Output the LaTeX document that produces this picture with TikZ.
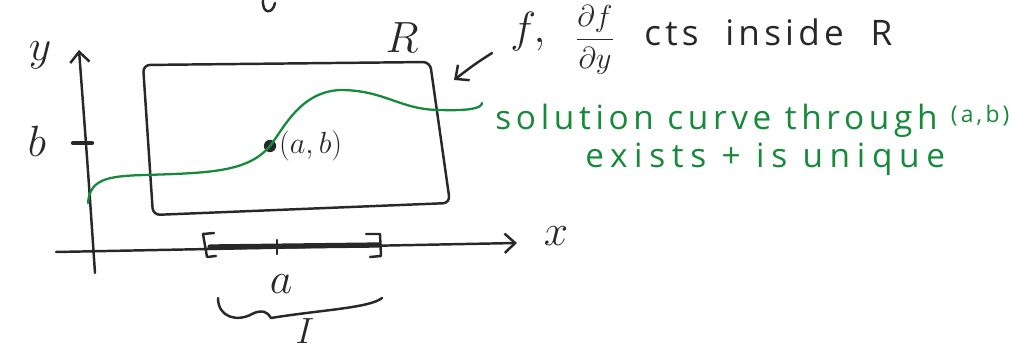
\documentclass[tikz,border=0pt]{standalone}
\usepackage{amsmath,amssymb}
\usepackage{fontspec}
\setmainfont{Open Sans}
\usetikzlibrary{positioning, arrows.meta, calc}

\definecolor{penBlack}{RGB}{40,40,40}
\definecolor{penGreen}{RGB}{22,138,58}

\begin{document}
\begin{tikzpicture}[
    x=0.02cm, y=-0.02cm,
    ink/.style={draw=penBlack, line width=1.4pt, line cap=round, line join=round},
    greenink/.style={draw=penGreen, line width=1.3pt, line cap=round},
    handtext/.style={text=penBlack, inner sep=0pt, font=\fontsize{20}{24}\selectfont},
    greentext/.style={text=penGreen, inner sep=0pt, font=\fontsize{19}{22}\selectfont},
    >={Straight Barb[length=6pt, width=11pt]}
]
    \useasboundingbox (0,0) rectangle (1028,350);

    % Axes
    \coordinate (yBot) at (95,273);
    \coordinate (yTop) at (79,50);
    \coordinate (xLeft) at (56,252);
    \coordinate (xRight) at (517,243);
    \draw[ink, ->] (yBot) .. controls (88,170) .. (yTop);
    \draw[ink, ->] (xLeft) -- (xRight);
    \node[handtext, font=\fontsize{30}{30}\selectfont] (yLbl) at (40,55) {$y$};
    \node[handtext, font=\fontsize{28}{30}\selectfont] (xLbl) at (556,236) {$x$};
    \draw[ink, line width=2.4pt] (73,143) -- (92,143);
    \node[handtext, font=\fontsize{26}{30}\selectfont] (bLbl) at (37,141) {$b$};

    % Region R
    \coordinate (rTL) at (143,65);
    \coordinate (rTR) at (430,62);
    \coordinate (rBR) at (450,203);
    \coordinate (rBL) at (153,215);
    \draw[ink, rounded corners=4pt] (rTL) -- (rTR) -- (rBR) -- (rBL) -- cycle;
    \node[handtext, font=\fontsize{26}{30}\selectfont] (RLbl) at (402,38) {$R$};

    % Interval I
    \coordinate (iL) at (210,247);
    \coordinate (iR) at (379,245);
    \draw[ink, line width=3pt] (iL) -- (iR);
    \draw[ink] (214,233) -- (203,234) -- (207,257) -- (216,256);
    \draw[ink] (366,234) -- (380,234) -- (381,256) -- (370,257);
    \draw[ink] (277,240) -- (277,254);
    \node[handtext, font=\fontsize{26}{30}\selectfont] (aLbl) at (281,284) {$a$};
    \draw[ink] (218,298) .. controls (218,318) and (238,322) .. (252,314)
        .. controls (262,309) and (268,312) .. (271,318)
        .. controls (320,310) and (370,308) .. (382,298);
    \node[handtext, font=\fontsize{22}{24}\selectfont] (ILbl) at (305,331) {$I$};

    % Point and solution curve
    \coordinate (pt) at (270,146);
    \fill[penBlack] (pt) circle[radius=3.5pt];
    \node[handtext, font=\fontsize{17}{20}\selectfont, right=5pt of pt] (ptLbl) {$(a,b)$};
    \coordinate (cS) at (88,203);
    \coordinate (cE) at (482,103);
    \draw[greenink] (cS) .. controls (90,180) and (105,176) .. (145,175)
        .. controls (210,173) and (248,172) .. (pt)
        .. controls (284,128) and (300,92) .. (340,90)
        .. controls (385,90) and (400,110) .. (440,110)
        .. controls (470,111) and (482,108) .. (cE);

    % Notes
    \node[handtext, font=\fontsize{24}{26}\selectfont] (fLbl) at (528,32) {$f,$};
    \node[handtext, font=\fontsize{18}{20}\selectfont] (dfLbl) at (595,40) {$\dfrac{\partial f}{\partial y}$};
    \node[handtext, anchor=west, font=\fontsize{20}{24}\selectfont\addfontfeature{LetterSpace=12}] (cond) at (644,32) {cts\ \ inside\ \ R};
    \coordinate (arrS) at (492,53);
    \coordinate (arrE) at (454,80);
    \draw[ink, ->] (arrS) .. controls (475,64) .. (arrE);
    \node[greentext, anchor=west, font=\fontsize{19}{22}\selectfont\addfontfeature{LetterSpace=14}] (sol) at (495,121) {solution\ curve\ through \raisebox{4pt}{\fontsize{13}{15}\selectfont (a,b)}};
    \node[greentext, anchor=west, font=\fontsize{19}{22}\selectfont\addfontfeature{LetterSpace=20}] (uniq) at (585,159) {exists\ +\ is\ unique};

    % cropped stroke at top edge
    \draw[ink] (263,0) .. controls (262,15) and (273,14) .. (275,3);
\end{tikzpicture}
\end{document}
